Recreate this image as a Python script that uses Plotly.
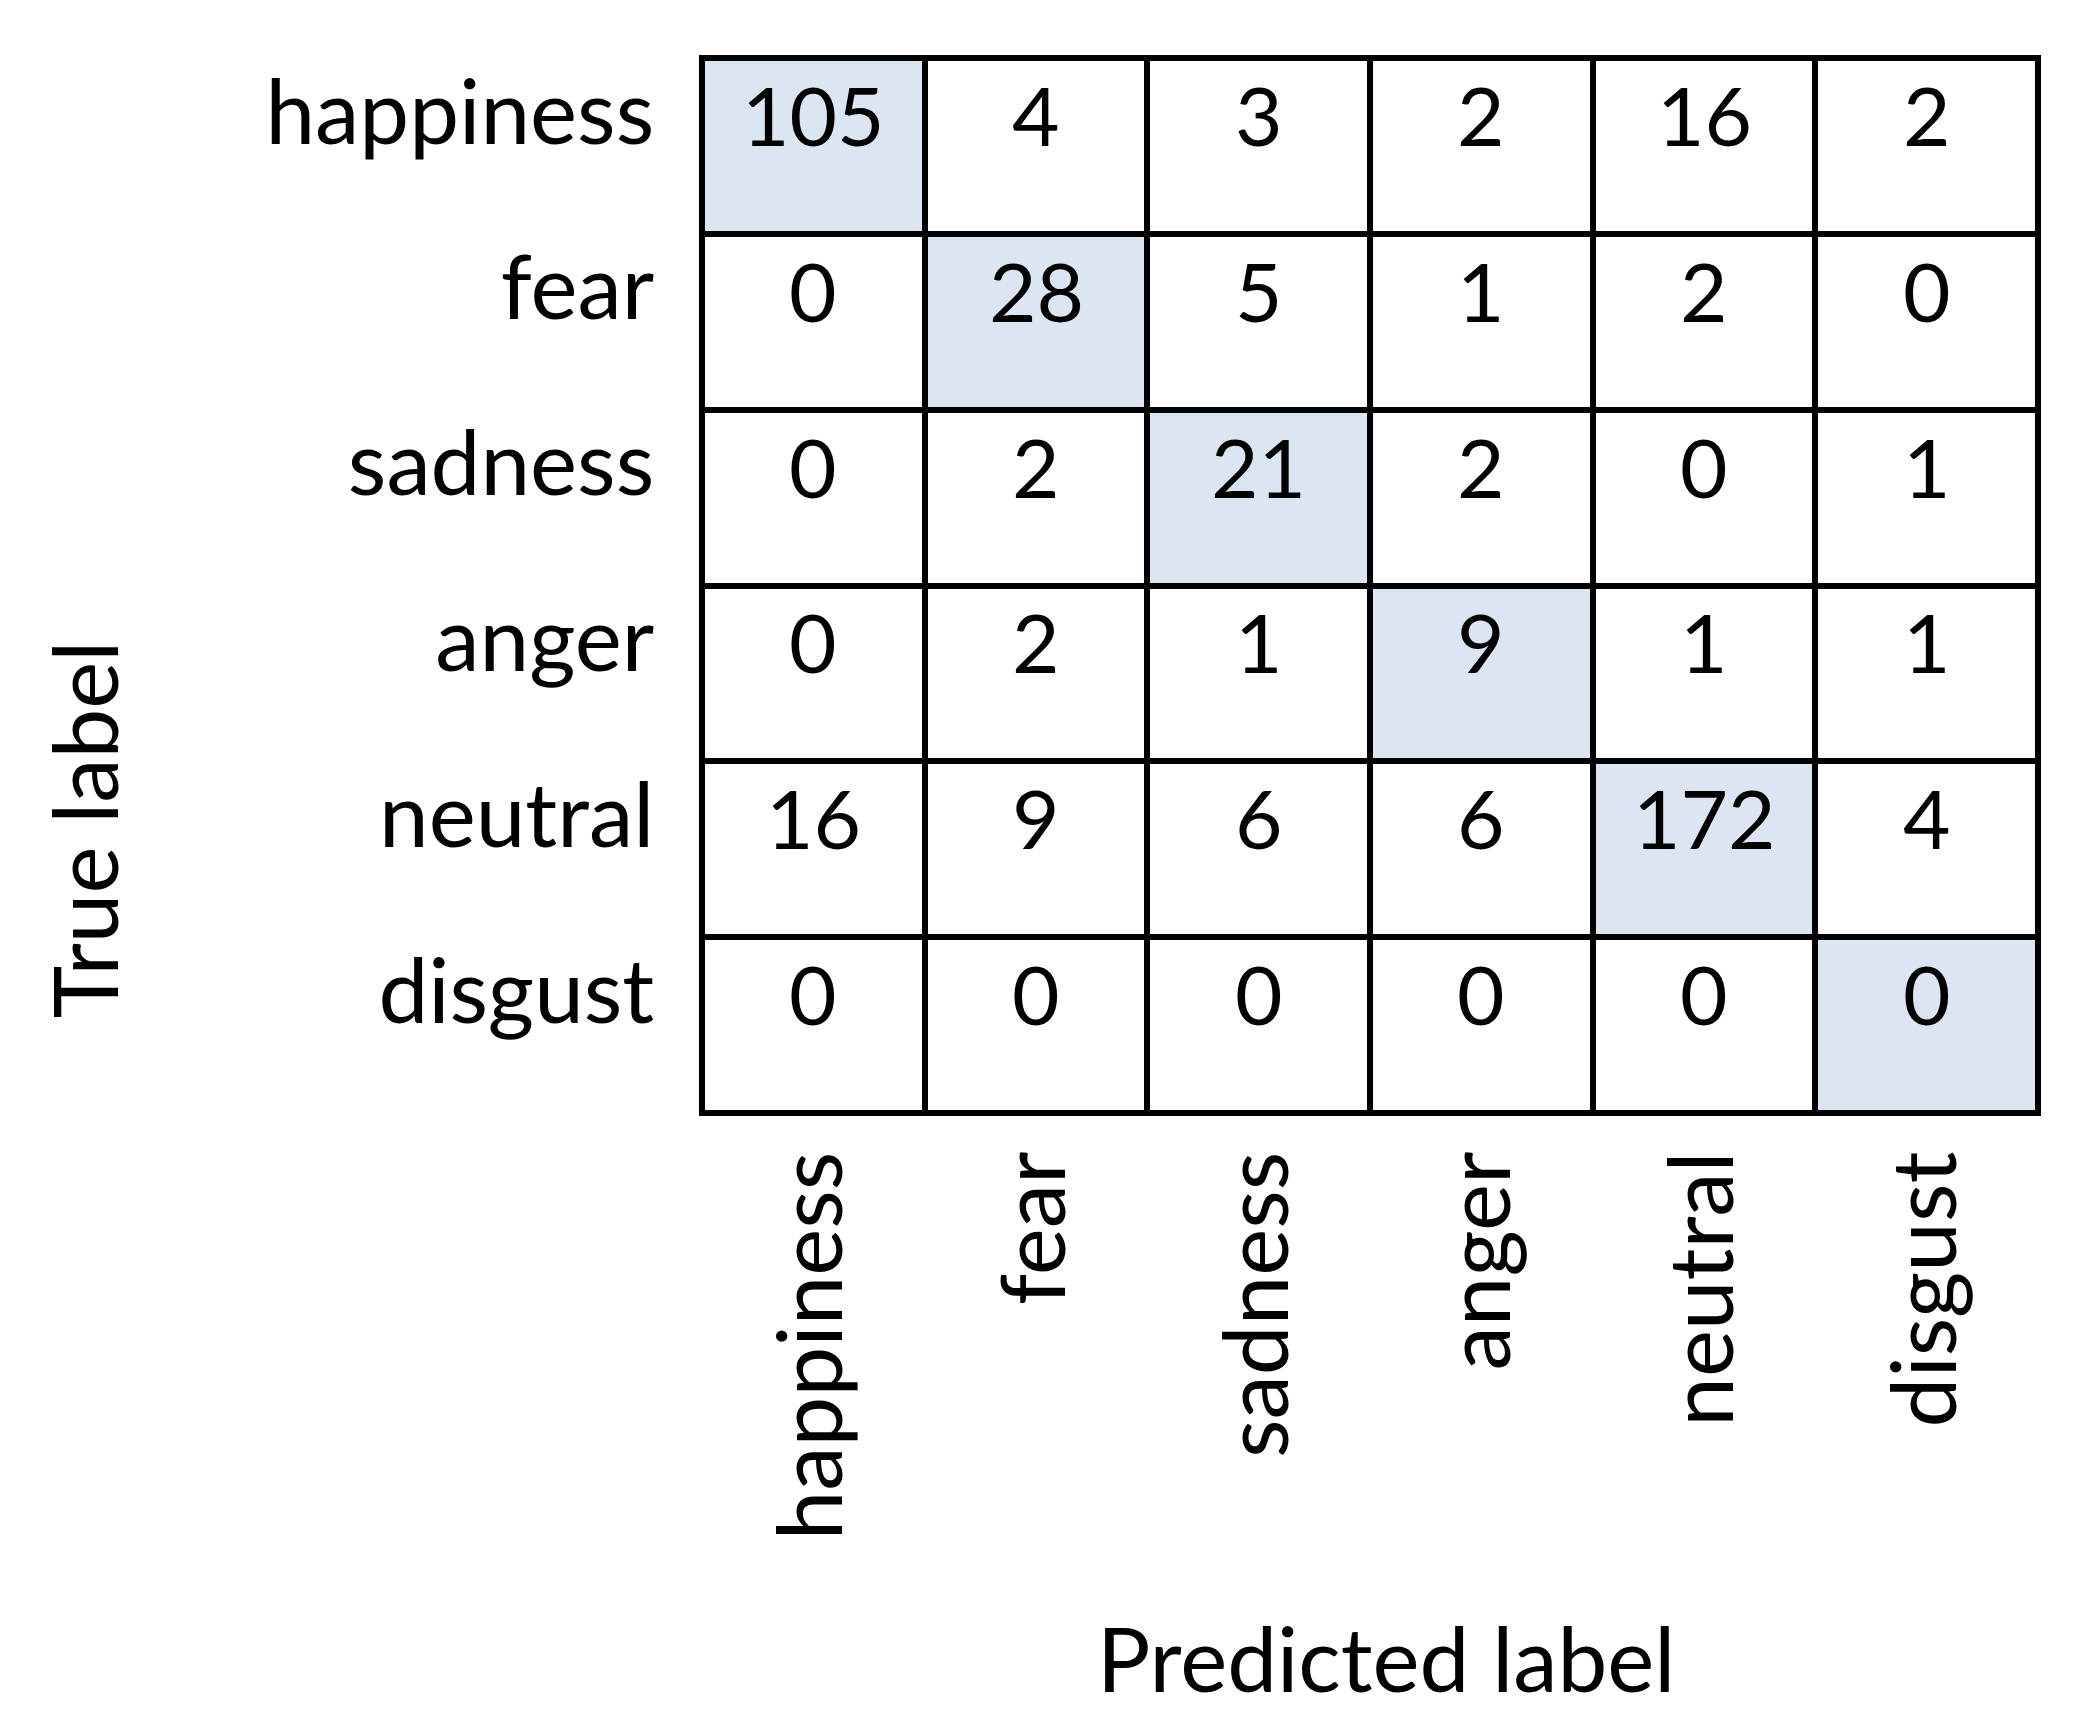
import plotly.graph_objects as go

true_labels = ["happiness", "fear", "sadness", "anger", "neutral", "disgust"]
pred_labels = ["happiness", "fear", "sadness", "anger", "neutral", "disgust"]
counts = [
    [105, 4, 3, 2, 16, 2],
    [0, 28, 5, 1, 2, 0],
    [0, 2, 21, 2, 0, 1],
    [0, 2, 1, 9, 1, 1],
    [16, 9, 6, 6, 172, 4],
    [0, 0, 0, 0, 0, 0],
]

FONT = "Lato"
FS_NUM = 82
FS_LAB = 89
n = len(true_labels)
idx = list(range(n))
diag = [[1 if i == j else 0 for j in idx] for i in idx]

fig = go.Figure()
fig.add_trace(go.Heatmap(
    z=diag, x=idx, y=idx,
    colorscale=[[0, "#ffffff"], [1, "#dce6f2"]],
    showscale=False, xgap=6, ygap=6, hoverinfo="skip", zmin=0, zmax=1,
))

for i in idx:
    for j in idx:
        fig.add_annotation(x=j, y=i, xref="x", yref="y", text=str(counts[i][j]),
                           showarrow=False, yshift=32,
                           font=dict(family=FONT, size=FS_NUM, color="black"))

fig.add_annotation(text="Predicted label", xref="paper", yref="paper", x=0.512, y=-0.516,
                   xanchor="center", yanchor="middle",
                   showarrow=False, font=dict(family=FONT, size=FS_LAB, color="black"))
fig.add_annotation(text="True label", xref="paper", yref="paper", x=-0.463, y=0.2693,
                   xanchor="center", yanchor="middle",
                   textangle=-90, showarrow=False, font=dict(family=FONT, size=FS_LAB, color="black"))

fig.update_xaxes(range=[-0.5, n - 0.5], tickvals=idx, ticktext=pred_labels, tickangle=-90,
                 showgrid=False, zeroline=False, showline=True, mirror=True, linewidth=3,
                 linecolor="black", ticks="", ticklabelstandoff=0,
                 tickfont=dict(family=FONT, size=FS_LAB, color="black"))
fig.update_yaxes(range=[n - 0.5, -0.5], tickvals=[i - 0.19 for i in idx], ticktext=true_labels,
                 showgrid=False, zeroline=False, showline=True, mirror=True, linewidth=3,
                 linecolor="black", ticks="", ticklabelstandoff=27,
                 tickfont=dict(family=FONT, size=FS_LAB, color="black"))

# the page body has an 8px default margin; the figure is sized to fit inside it
fig.update_layout(width=2080, height=1716, autosize=False,
                  margin=dict(l=694, r=50, t=50, b=611, pad=0),
                  plot_bgcolor="black", paper_bgcolor="white", showlegend=False)

fig.write_html("out.html")
